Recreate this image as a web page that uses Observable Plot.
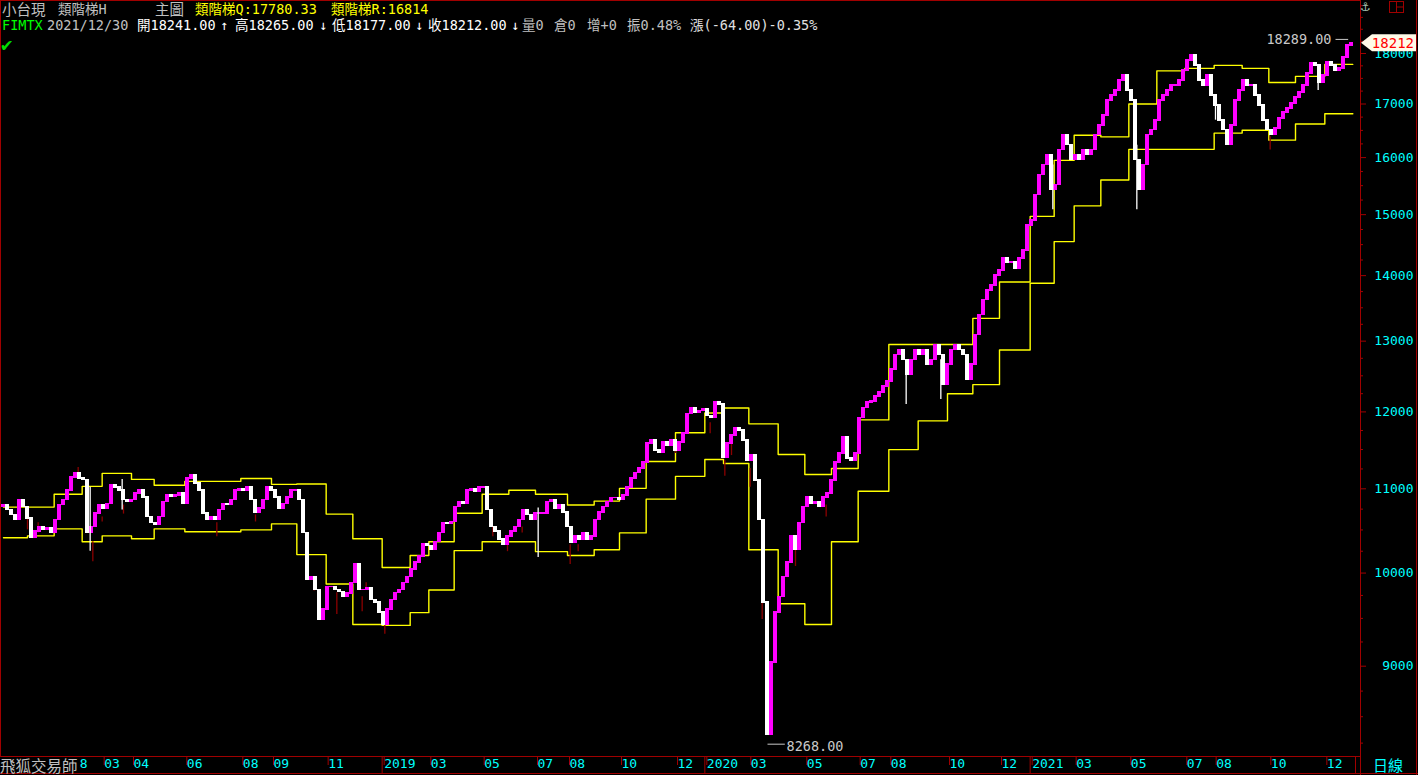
<!DOCTYPE html>
<html><head><meta charset="utf-8">
<script src="https://cdn.jsdelivr.net/npm/d3@7"></script>
<script src="https://cdn.jsdelivr.net/npm/@observablehq/plot@0.6"></script>
<style>
html,body{margin:0;padding:0;background:#000;width:1418px;height:775px;overflow:hidden;}
#wrap{position:relative;width:1418px;height:775px;background:#000;}
#wrap > svg{position:absolute;left:0;top:0;}
.t{position:absolute;white-space:pre;font-family:"DejaVu Sans Mono","Noto Sans CJK TC",monospace;font-size:13.5px;line-height:16px;}
.cjk{font-family:"Noto Sans CJK TC",sans-serif;font-size:14.5px;}
</style></head><body><div id="wrap"></div>
<script>
// ---- data ----
const firstOpen = 10780;
// closes sampled every 3 trading days (index d = 3*i)
const closes = [
10800,10740,10680,10620,10860,10775,10640,10410,10480,10535,10500,10525,10465,
10620,10800,10860,10980,11140,11200,11130,11110,10465,10535,10700,10800,
10760,10815,11044,11020,10980,10860,10835,10860,10945,10980,10895,10655,10585,10560,10655,10835,10920,10900,10920,10945,10815,
11130,11170,11070,10980,10700,10620,10650,10620,10740,10815,10800,10860,10980,11000,
10980,11020,10860,10710,10760,10860,11020,10980,10895,10760,10815,10895,10980,10980,
10860,10465,9920,9955,9811,9490,9594,9845,9845,9811,9790,9735,9770,9890,
10097,9811,9811,9830,9702,9670,9562,9435,9594,9702,9778,9811,9890,9955,
10041,10120,10190,10326,10310,10268,10360,10465,10585,10570,10595,10775,10835,10815,10980,11000,10960,11020,
11020,10740,10535,10480,10384,10326,10420,10480,10535,10620,10740,10680,10620,10700,10700,10700,10835,10860,10760,10800,10710,
10535,10350,10420,10384,10465,10384,10420,10620,10710,10775,10835,10885,10885,10860,10920,11020,11130,11200,11255,11330,
11580,11616,11486,11460,11590,11551,11616,11486,11590,11708,11973,12054,11986,12013,
12040,11946,11920,12128,12101,11396,11580,11681,11773,11747,11616,11358,11422,11106,10620,9670,8330,9035,9562,
9735,9955,10120,10420,10268,10585,10775,10895,10815,10835,10775,10895,10945,11106,11330,11448,11655,11384,11358,11448,
11920,12054,12128,12142,12210,12265,12348,12418,
12586,12800,12872,12728,12516,12728,12872,12800,12872,12657,12728,12945,12800,12376,12657,12872,12945,12872,12800,12446,12657,13092,13390,13617,13771,13849,14006,14085,14276,14212,14212,14117,14276,14405,14815,
14899,15339,15688,15866,16045,15425,15512,16136,16411,16227,15955,16045,15955,16136,16045,16136,16411,16597,16785,17071,17167,17264,17460,17559,17264,
17071,15955,15425,15866,16411,16504,16691,17071,17167,17264,17362,17362,17460,17658,17858,17959,17758,17460,17362,17559,17167,
16975,16691,16504,16227,16597,17071,17264,17460,17362,17362,17167,16975,16691,16504,16411,16541,16728,16842,16918,17013,17128,17225,17362,17599,17798,17758,17420,17559,17818,17758,17658,17698,17919,18164,18212
];
// dark red shadows: [trading day, low, high]
const redWicks = [
[18,10501,10655],[26,10465,10585],[56,11143,11270],[67,10130,10360],[74,10595,10655],[90,10690,10800],
[160,10420,10585],[189,10595,10680],[233,9800,9890],[250,9541,9780],[269,9573,9735],[272,9811,9890],
[286,9330,9435],[367,10420,10535],[378,10245,10326],[389,10465,10535],[425,10097,10326],[431,10245,10326],
[504,11448,11551],[530,11708,11853],[541,11156,11358],[546,11422,11580],[560,11020,11256],[569,9488,9680],
[575,8544,8659],[579,9278,9562],[594,10075,10290],[617,10655,10800],[950,16136,16380]
];
// long white shadows: [trading day, low, high]
const whiteSpikes = [
[65,10250,11020],[89,10739,11118],[401,10177,10763],[677,12101,12586],[703,12169,12728],
[787,15082,15866],[850,15082,16227],[909,16691,17071],[986,17264,17658]
];
// monthly step indicator 類階梯 (Q upper, R lower)
const monthStart = [0,18,38,59,74,96,113,136,157,178,201,220,242,262,284,305,319,338,359,379,399,423,443,462,482,504,526,540,559,581,601,621,641,664,686,708,727,747,770,788,803,823,844,865,886,908,929,949,969,991];
const stepQ = [10775,10775,10933,11031,11194,11118,11044,11093,11093,11130,11056,11060,10690,10395,10063,10200,10360,10700,10933,10982,10933,10800,10848,11006,11345,11720,11986,12054,11839,11435,11180,11256,11892,12950,12950,12950,13340,13900,14970,15950,16410,16380,17000,17650,17700,17760,17700,17420,17540,17780.33];
const stepR = [10407,10430,10513,10360,10430,10395,10513,10478,10478,10501,10572,10211,9877,9435,9425,9562,9811,10257,10361,10361,10245,10200,10268,10465,10872,11156,11371,11320,10268,9659,9435,10361,10970,11499,11879,12250,12376,12870,13880,14550,15150,15600,16150,16150,16150,16450,16504,16319,16620,16814];
// x-axis ticks (trading day of month start) and their labels
const tickDay = [38,74,96,136,178,201,242,284,319,359,399,423,462,504,526,559,601,641,664,708,747,770,803,844,886,908,949,991];
const tickLabel = ["2018","03","04","06","08","09","11","2019","03","05","07","08","10","12","2020","03","05","07","08","10","12","2021","03","05","07","08","10","12"];
const yearDay = [38,284,526,770];
const yMajor = [9000,10000,11000,12000,13000,14000,15000,16000,17000,18000];
const yMinor = [8250,8500,8750,9250,9500,9750,10250,10500,10750,11250,11500,11750,12250,12500,12750,13250,13500,13750,14250,14500,14750,15250,15500,15750,16250,16500,16750,17250,17500,17750,18250,18500,18750,19000];
const lowPoint = {d: 573, v: 8268};
const highPoint = {d: 1011, v: 18289};
const lastDate = "2021/12/30", lastOpen = 18241, lastHigh = 18265, lastLow = 18177, lastClose = 18212;
const qVal = "17780.33", rVal = "16814";

// ---- build ----
const RED = "#a00000", CYAN = "#00ffff", MAG = "#ff00ff", YEL = "#ffff00", GREY = "#c8c8c8", WICK = "#8b0000";
const candles = closes.map((c, i) => ({d: i * 3, open: i ? closes[i - 1] : firstOpen, close: c}));
const lastD = candles[candles.length - 1].d;
const steps = monthStart.map((d, i) => ({d, q: stepQ[i], r: stepR[i]}));
steps.push({d: lastD + 1, q: stepQ[stepQ.length - 1], r: stepR[stepR.length - 1]});
const labelOf = new Map(tickDay.map((d, i) => [d, tickLabel[i]]));
const wickRows = redWicks.map(([d, lo, hi]) => ({d, lo, hi}));
const spikeRows = whiteSpikes.map(([d, lo, hi]) => ({d, lo, hi}));

const chart = Plot.plot({
  width: 1418, height: 775,
  marginLeft: 0, marginRight: 58, marginTop: 0, marginBottom: 19,
  style: {background: "#000", color: CYAN, fontFamily: "'DejaVu Sans Mono', monospace", fontSize: "13px"},
  x: {domain: [-2.25, 1017.75], axis: null},
  y: {type: "log", domain: [8126, 19112], axis: null},
  marks: [
    Plot.line(steps, {x: "d", y: "q", curve: "step-after", stroke: YEL, strokeWidth: 1.4}),
    Plot.line(steps, {x: "d", y: "r", curve: "step-after", stroke: YEL, strokeWidth: 1.4}),
    Plot.ruleX(wickRows, {x: "d", y1: "lo", y2: "hi", stroke: WICK, strokeWidth: 1.3}),
    Plot.rect(candles, {x1: d => d.d - 1.35, x2: d => d.d + 1.35, y1: "open", y2: "close",
      fill: d => d.close >= d.open ? MAG : "#ffffff", insetTop: -0.8, insetBottom: -0.8, shapeRendering: "crispEdges"}),
    Plot.ruleX(spikeRows, {x: "d", y1: "lo", y2: "hi", stroke: "#ffffff", strokeWidth: 1.3}),
    Plot.link([highPoint], {x1: d => d.d - 12, x2: d => d.d - 2.5, y1: "v", y2: "v", stroke: GREY, strokeWidth: 1}),
    Plot.text([highPoint], {x: "d", y: "v", text: d => d.v.toFixed(2), textAnchor: "end", dx: -20, fill: GREY, fontSize: 13.5}),
    Plot.link([lowPoint], {x1: "d", x2: d => d.d + 13, y1: "v", y2: "v", dy: 3, stroke: GREY, strokeWidth: 1}),
    Plot.text([lowPoint], {x: "d", y: "v", text: d => d.v.toFixed(2), textAnchor: "start", dx: 19, dy: 5, fill: GREY, fontSize: 13.5}),
    Plot.frame({stroke: RED}),
    Plot.axisY(yMinor, {anchor: "right", tickSize: 2, tickFormat: () => "", stroke: RED, label: null}),
    Plot.axisY(yMajor, {anchor: "right", tickSize: 5, tickFormat: () => "", stroke: RED, label: null}),
    Plot.text(yMajor, {y: d => d, text: d => String(d), frameAnchor: "right", dx: 53, textAnchor: "end", fill: CYAN, fontSize: 13}),
    Plot.axisX(yearDay, {anchor: "bottom", tickSize: 17, tickFormat: () => "", stroke: RED, label: null}),
    Plot.axisX(tickDay, {anchor: "bottom", tickSize: 9, tickPadding: -7, tickFormat: d => labelOf.get(d),
      textAnchor: "start", dx: 2, fill: CYAN, stroke: RED, fontSize: 13, label: null})
  ]
});
const wrap = document.getElementById("wrap");
wrap.appendChild(chart);

// overlays (header, footer, price tag) positioned with the chart's scales
const ys = chart.scale("y");
const yTag = ys.apply(lastClose);
const over = document.createElementNS("http://www.w3.org/2000/svg", "svg");
over.setAttribute("width", 1418); over.setAttribute("height", 775);
over.innerHTML = `
 <line x1="0" y1="773.5" x2="1418" y2="773.5" stroke="${RED}"/>
 <line x1="1416.5" y1="0" x2="1416.5" y2="775" stroke="${RED}"/>
 <line x1="1360.5" y1="755" x2="1360.5" y2="775" stroke="${RED}"/>
 <line x1="1355.5" y1="756" x2="1355.5" y2="773" stroke="${RED}"/>
 <rect x="1389.5" y="1.5" width="14" height="11" fill="none" stroke="${RED}"/>
 <line x1="1396.5" y1="1.5" x2="1396.5" y2="12.5" stroke="${RED}"/>
 <line x1="1396.5" y1="7" x2="1403.5" y2="7" stroke="${RED}"/>
 <polygon points="1361,${yTag} 1372,${yTag-8.5} 1416,${yTag-8.5} 1416,${yTag+8.5} 1372,${yTag+8.5}" fill="#fffbe8"/>
 <text x="1414" y="${yTag}" dy="0.36em" text-anchor="end" fill="#ff0000" font-family="DejaVu Sans Mono" font-size="14">${lastClose}</text>
 <text x="1360" y="11" fill="#a0c0b0" font-family="DejaVu Sans" font-size="12">⚓</text>
`;
wrap.appendChild(over);

function seg(x, y, txt, color, cls) {
  const s = document.createElement("div");
  s.className = "t" + (cls ? " " + cls : "");
  s.style.left = x + "px"; s.style.top = y + "px"; s.style.color = color;
  s.textContent = txt; wrap.appendChild(s); return s;
}
seg(2, 1, "小台現", "#c0c0c0", "cjk");
seg(58, 1, "類階梯H", "#c0c0c0");
seg(155, 1, "主圖", "#c0c0c0", "cjk");
seg(195, 1, "類階梯Q:" + qVal, YEL);
seg(331, 1, "類階梯R:" + rVal, YEL);
seg(2, 17, "FIMTX", "#00ff00");
seg(47, 17, lastDate, "#c0c0c0");
seg(137, 17, "開" + lastOpen.toFixed(2), "#ffffff");
seg(220, 17, "↑", "#ffffff");
seg(235, 17, "高" + lastHigh.toFixed(2), "#ffffff");
seg(319, 17, "↓", "#ffffff");
seg(332, 17, "低" + lastLow.toFixed(2), "#ffffff");
seg(415, 17, "↓", "#ffffff");
seg(428, 17, "收" + lastClose.toFixed(2), "#ffffff");
seg(511, 17, "↓", "#ffffff");
seg(522, 17, "量0", "#c0c0c0");
seg(554, 17, "倉0", "#c0c0c0");
seg(587, 17, "增+0", "#c0c0c0");
seg(627, 17, "振0.48%", "#c0c0c0");
seg(690, 17, "漲(-" + (lastOpen - lastClose + 35).toFixed(2) + ")-0.35%", "#e0e0e0");
const ck = seg(1, 33, "✔", "#00dd00"); ck.style.fontSize = "19px"; ck.style.lineHeight = "22px";
const ft = seg(0, 757, "飛狐交易師", "#c0c0c0", "cjk");
ft.style.background = "#000"; ft.style.fontSize = "15.5px"; ft.style.lineHeight = "16px"; ft.style.paddingRight = "1px";
seg(1373, 757, "日線", CYAN, "cjk").style.fontSize = "15px";
</script></body></html>
